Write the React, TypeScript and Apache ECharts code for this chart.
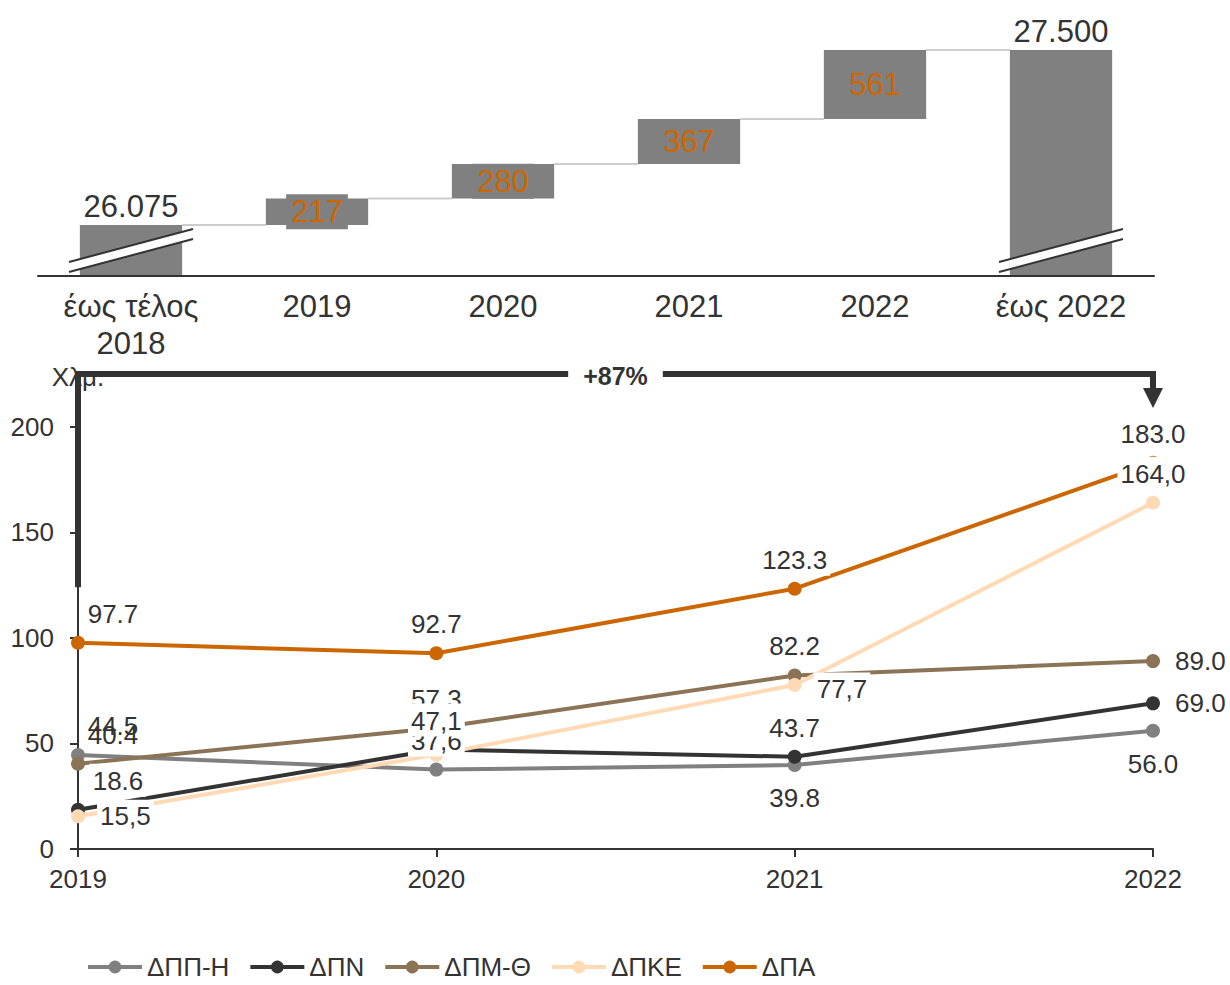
import React, { useEffect, useRef } from 'react';
import * as echarts from 'echarts';

// ---------- Waterfall (top) ----------
const wfCategories = ['έως τέλος\n2018', '2019', '2020', '2021', '2022', 'έως 2022'];
const wfStart = 26075;
const wfIncrements = [217, 280, 367, 561];
const wfTotal = 27500;
const wfLabels = ['26.075', '217', '280', '367', '561', '27.500'];

// ---------- Lines (bottom) ----------
const years = ['2019', '2020', '2021', '2022'];
const dppH = [44.5, 37.6, 39.8, 56.0];
const dpn = [18.6, 47.1, 43.7, 69.0];
const dpmTh = [40.4, 57.3, 82.2, 89.0];
const dpke = [15.5, 44.7, 77.7, 164.0];
const dpa = [97.7, 92.7, 123.3, 183.0];
const dppHLabels = ['44.5', '37,6', '39.8', '56.0'];
const dpnLabels = ['18.6', '47,1', '43.7', '69.0'];
const dpmThLabels = ['40.4', '57.3', '82.2', '89.0'];
const dpkeLabels = ['15,5', '', '77,7', '164,0'];
const dpaLabels = ['97.7', '92.7', '123.3', '183.0'];
const seriesNames = ['ΔΠΠ-Η', 'ΔΠΝ', 'ΔΠΜ-Θ', 'ΔΠΚΕ', 'ΔΠΑ'];
const growthText = '+87%';
const yUnit = 'Χλμ.';

// styling (not data)
const colors = ['#808080', '#333333', '#8B7355', '#FFDAB4', '#CC6600'];
const TXT = '#333333';
const F_TOP = 31;
const F_BOT = 26;
type Pos = [string, number, number, boolean];
// [position, offsetX, offsetY, opaque background]
const labelPos: Pos[][] = [
  [['top', 35, 0, false], ['top', 0, 0, true], ['bottom', 0, 0, true], ['bottom', 0, 0, true]],
  [['top', 40, 0, true], ['top', 0, 0, true], ['top', 0, 0, true], ['right', 0, 0, true]],
  [['top', 35, 0, false], ['top', 0, 0, true], ['top', 0, 0, true], ['right', 0, 0, true]],
  [['right', 0, 0, true], ['top', 0, 0, true], ['right', 0, 4, true], ['top', 0, 0, true]],
  [['top', 35, 0, true], ['top', 0, 0, true], ['top', 0, 0, true], ['top', 0, 0, true]],
];
// drawing order of label layers (later = on top)
const labelOrder = [4, 2, 0, 3, 1];

const WF_MIN = 25660;
const WF_MAX = 27745;

export default function App() {
  const ref = useRef<HTMLDivElement>(null);
  useEffect(() => {
    if (!ref.current) return;
    const chart = echarts.init(ref.current, null, { renderer: 'svg' });

    const cum: number[] = [wfStart];
    wfIncrements.forEach((v) => cum.push(cum[cum.length - 1] + v));
    const helper = [0, ...cum.slice(0, wfIncrements.length), 0];
    const visible = [wfStart, ...wfIncrements, wfTotal];

    const visData = visible.map((v, i) => {
      const isEnd = i === 0 || i === visible.length - 1;
      return {
        value: v,
        label: isEnd
          ? { show: true, position: 'top', distance: 3, color: TXT, fontSize: F_TOP, formatter: wfLabels[i] }
          : {
              show: true,
              position: 'inside',
              color: '#CC6600',
              fontSize: F_TOP,
              backgroundColor: '#808080',
              padding: [2, 5],
              formatter: wfLabels[i],
            },
      };
    });

    const connectorData = cum.map((c, i) => [i, c]);

    const lineData = [dppH, dpn, dpmTh, dpke, dpa];
    const lineLabels = [dppHLabels, dpnLabels, dpmThLabels, dpkeLabels, dpaLabels];

    const lineSeries = lineData.map((arr, s) => ({
      name: seriesNames[s],
      type: 'line',
      xAxisIndex: 1,
      yAxisIndex: 1,
      symbol: 'circle',
      symbolSize: 14,
      color: colors[s],
      lineStyle: { width: 4, color: colors[s] },
      itemStyle: { color: colors[s] },
      z: 2,
      data: arr,
    }));

    const labelSeries = labelOrder.map((s, k) => ({
      type: 'scatter',
      xAxisIndex: 1,
      yAxisIndex: 1,
      symbolSize: 14,
      itemStyle: { color: 'rgba(0,0,0,0)', opacity: 1 },
      silent: true,
      z: 10 + k,
      data: lineData[s].map((v, i) => {
        const p = labelPos[s][i];
        const txt = lineLabels[s][i];
        return {
          value: [i, v],
          label: {
            show: txt !== '',
            position: p[0],
            distance: p[0] === 'right' ? 12 : p[0] === 'bottom' ? 9 : 6,
            offset: [p[1], p[2]],
            formatter: txt,
            fontSize: F_BOT,
            color: TXT,
            opacity: 1,
            backgroundColor: p[3] ? '#ffffff' : 'transparent',
            padding: [4, 3, 3, 3],
          },
        };
      }),
    }));

    const option: any = {
      animation: false,
      backgroundColor: '#ffffff',
      textStyle: { fontFamily: 'Liberation Sans, Arial, sans-serif' },
      grid: [
        { left: 38, right: 76, top: 20, bottom: 709 },
        { left: 78, right: 77, top: 374, bottom: 136 },
      ],
      xAxis: [
        {
          type: 'category',
          gridIndex: 0,
          data: wfCategories,
          axisLine: { lineStyle: { color: TXT, width: 2 } },
          axisTick: { show: false },
          axisLabel: { color: TXT, fontSize: F_TOP, margin: 12, lineHeight: 37 },
          z: 5,
        },
        {
          type: 'category',
          gridIndex: 1,
          data: years,
          boundaryGap: false,
          axisLine: { lineStyle: { color: TXT, width: 2 } },
          axisTick: { show: true, length: 8, lineStyle: { color: TXT, width: 2 } },
          axisLabel: { color: TXT, fontSize: F_BOT, margin: 17 },
        },
      ],
      yAxis: [
        {
          type: 'value',
          gridIndex: 0,
          min: WF_MIN,
          max: WF_MAX,
          show: false,
          splitLine: { show: false },
        },
        {
          type: 'value',
          gridIndex: 1,
          min: 0,
          max: 225,
          interval: 50,
          name: yUnit,
          nameLocation: 'end',
          nameGap: -16,
          nameTextStyle: { color: TXT, fontSize: F_BOT, align: 'center' },
          axisLine: { show: true, lineStyle: { color: TXT, width: 2 } },
          axisTick: { show: true, length: 8, lineStyle: { color: TXT, width: 2 } },
          axisLabel: { color: TXT, fontSize: F_BOT, margin: 24, showMaxLabel: false },
          splitLine: { show: false },
        },
      ],
      legend: {
        data: seriesNames,
        left: 86,
        top: 954,
        padding: 0,
        itemWidth: 54,
        itemHeight: 16,
        itemGap: 19,
        lineStyle: { width: 4 },
        textStyle: { color: TXT, fontSize: F_BOT, lineHeight: 26 },
      },
      series: [
        {
          type: 'bar',
          xAxisIndex: 0,
          yAxisIndex: 0,
          stack: 'wf',
          barWidth: '55%',
          itemStyle: { color: 'transparent' },
          emphasis: { disabled: true },
          data: helper,
          silent: true,
        },
        {
          type: 'bar',
          xAxisIndex: 0,
          yAxisIndex: 0,
          stack: 'wf',
          barWidth: '55%',
          itemStyle: { color: '#808080' },
          data: visData,
          clip: true,
        },
        {
          type: 'custom',
          xAxisIndex: 0,
          yAxisIndex: 0,
          data: connectorData,
          renderItem: (params: any, api: any) => {
            const i = api.value(0);
            const v = api.value(1);
            const band = api.size([1, 0])[0];
            const half = (band * 0.55) / 2;
            const a = api.coord([i, v]);
            const b = api.coord([i + 1, v]);
            return {
              type: 'line',
              shape: { x1: a[0] + half, y1: a[1], x2: b[0] - half, y2: b[1] },
              style: { stroke: '#CCCCCC', lineWidth: 2 },
            };
          },
          z: 1,
        },
        ...lineSeries,
        ...labelSeries,
      ],
    };
    chart.setOption(option);

    const graphics: any[] = [];
    const conv0 = (x: number, y: number) =>
      chart.convertToPixel({ xAxisIndex: 0, yAxisIndex: 0 }, [x, y]) as number[];
    [0, wfCategories.length - 1].forEach((idx) => {
      const p = conv0(idx, WF_MIN);
      const cx = p[0];
      const by = p[1];
      const x1 = cx - 62;
      const x2 = cx + 62;
      graphics.push({
        type: 'polygon',
        z: 50,
        shape: { points: [[x1, by - 14], [x2, by - 47], [x2, by - 37], [x1, by - 4]] },
        style: { fill: '#ffffff' },
      });
      graphics.push({
        type: 'line',
        z: 51,
        shape: { x1, y1: by - 14, x2, y2: by - 47 },
        style: { stroke: TXT, lineWidth: 2 },
      });
      graphics.push({
        type: 'line',
        z: 51,
        shape: { x1, y1: by - 4, x2, y2: by - 37 },
        style: { stroke: TXT, lineWidth: 2 },
      });
    });

    const conv1 = (x: number, y: number) =>
      chart.convertToPixel({ xAxisIndex: 1, yAxisIndex: 1 }, [x, y]) as number[];
    const pStart = conv1(0, 124);
    const pTopL = conv1(0, 225);
    const pTopR = conv1(years.length - 1, 225);
    const ah = pTopR[1] + 34;
    graphics.push({
      type: 'polyline',
      z: 60,
      shape: {
        points: [
          [pStart[0], pStart[1]],
          [pTopL[0], pTopL[1]],
          [pTopR[0], pTopR[1]],
          [pTopR[0], ah - 18],
        ],
      },
      style: { stroke: TXT, lineWidth: 6, fill: 'none', lineJoin: 'miter' },
    });
    graphics.push({
      type: 'polygon',
      z: 61,
      shape: { points: [[pTopR[0] - 10, ah - 20], [pTopR[0] + 10, ah - 20], [pTopR[0], ah]] },
      style: { fill: TXT },
    });
    const midX = (pTopL[0] + pTopR[0]) / 2;
    graphics.push({
      type: 'text',
      z: 62,
      x: midX,
      y: pTopL[1] + 2,
      style: {
        text: growthText,
        fontSize: 25,
        fontWeight: 'bold',
        fontFamily: 'Liberation Sans, Arial, sans-serif',
        fill: TXT,
        align: 'center',
        verticalAlign: 'middle',
        backgroundColor: '#ffffff',
        padding: [2, 15],
      },
    });
    chart.setOption({ graphic: graphics });

    return () => chart.dispose();
  }, []);

  return (
    <div
      ref={ref}
      style={{ position: 'absolute', left: 0, top: 0, width: 1230, height: 985, background: '#fff' }}
    />
  );
}
